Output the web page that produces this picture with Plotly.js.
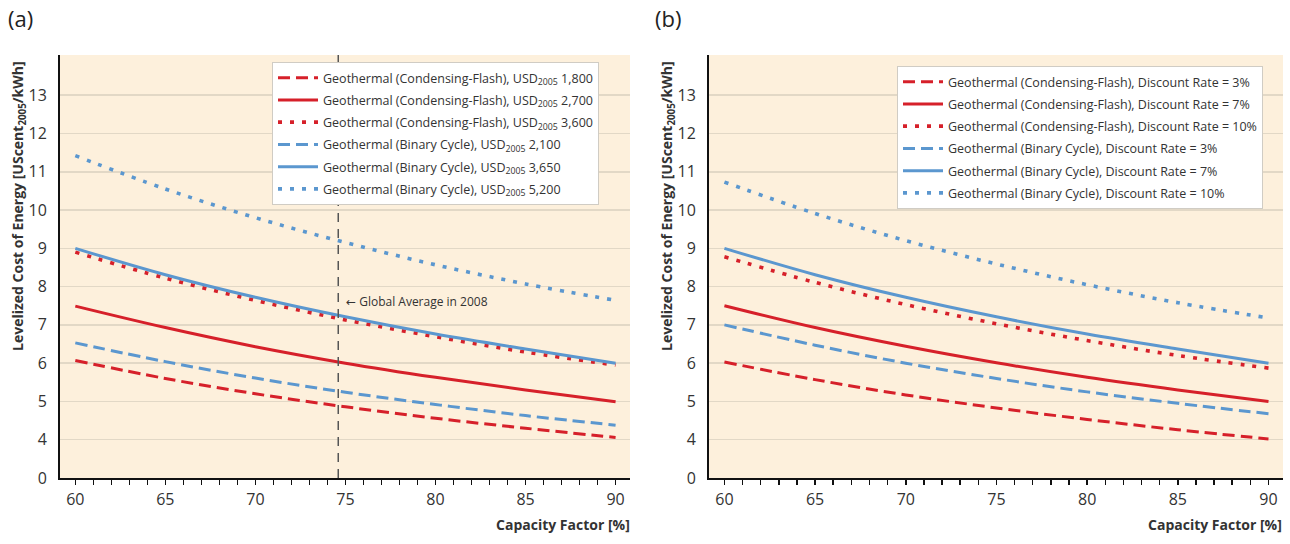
<!DOCTYPE html>
<html>
<head>
<meta charset="utf-8">
<script src="https://cdn.plot.ly/plotly-3.0.1.min.js"></script>
<style>html,body{margin:0;padding:0;background:#fff;}#chart{width:1290px;height:544px;}</style>
</head>
<body>
<div id="chart"></div>
<script>
// ---------- data ----------
const capacityFactor = [60, 65, 70, 75, 80, 85, 90];

// Panel (a): investment cost sensitivity
const aFlash1800 = [6.07, 5.60, 5.20, 4.86, 4.56, 4.30, 4.06];
const aFlash2700 = [7.49, 6.93, 6.43, 6.00, 5.63, 5.30, 4.99];
const aFlash3600 = [8.90, 8.22, 7.64, 7.13, 6.69, 6.29, 5.95];
const aBinary2100 = [6.53, 6.04, 5.61, 5.24, 4.92, 4.63, 4.38];
const aBinary3650 = [9.00, 8.31, 7.72, 7.21, 6.76, 6.37, 6.00];
const aBinary5200 = [11.42, 10.55, 9.80, 9.15, 8.57, 8.07, 7.64];

// Panel (b): discount rate sensitivity
const bFlash3 = [6.03, 5.57, 5.17, 4.83, 4.53, 4.26, 4.02];
const bFlash7 = [7.50, 6.93, 6.44, 6.01, 5.63, 5.30, 5.00];
const bFlash10 = [8.78, 8.11, 7.53, 7.03, 6.59, 6.20, 5.87];
const bBinary3 = [7.00, 6.47, 6.00, 5.60, 5.25, 4.95, 4.68];
const bBinary7 = [9.00, 8.31, 7.72, 7.21, 6.76, 6.37, 6.00];
const bBinary10 = [10.73, 9.91, 9.20, 8.59, 8.05, 7.58, 7.18];

const namesA = [
  'Geothermal (Condensing-Flash), USD<sub>2005</sub> 1,800',
  'Geothermal (Condensing-Flash), USD<sub>2005</sub> 2,700',
  'Geothermal (Condensing-Flash), USD<sub>2005</sub> 3,600',
  'Geothermal (Binary Cycle), USD<sub>2005</sub> 2,100',
  'Geothermal (Binary Cycle), USD<sub>2005</sub> 3,650',
  'Geothermal (Binary Cycle), USD<sub>2005</sub> 5,200'
];
const namesB = [
  'Geothermal (Condensing-Flash), Discount Rate = 3%',
  'Geothermal (Condensing-Flash), Discount Rate = 7%',
  'Geothermal (Condensing-Flash), Discount Rate = 10%',
  'Geothermal (Binary Cycle), Discount Rate = 3%',
  'Geothermal (Binary Cycle), Discount Rate = 7%',
  'Geothermal (Binary Cycle), Discount Rate = 10%'
];

const yTickVals = [3, 4, 5, 6, 7, 8, 9, 10, 11, 12, 13];
const yTickText = ['0', '4', '5', '6', '7', '8', '9', '10', '11', '12', '13'];
const globalAverageCF2008 = 74.6;

// ---------- styles ----------
const RED = '#d6202a';
const BLUE = '#5b97cf';
const DASH = '12px,6px';
const DOT = '4px,8px';
const FONT = '"Open Sans", "DejaVu Sans", sans-serif';

function mk(y, name, color, dash, xa, ya, leg, gi) {
  return {
    x: capacityFactor, y: y, name: name, type: 'scatter', mode: 'lines',
    line: {color: color, width: dash === DOT ? 3.6 : 3, dash: dash, shape: 'spline', smoothing: 1},
    xaxis: xa, yaxis: ya, legend: leg, legendgroup: leg + gi, hoverinfo: 'skip'
  };
}

const seriesA = [aFlash1800, aFlash2700, aFlash3600, aBinary2100, aBinary3650, aBinary5200];
const seriesB = [bFlash3, bFlash7, bFlash10, bBinary3, bBinary7, bBinary10];
const colors = [RED, RED, RED, BLUE, BLUE, BLUE];
const dashes = [DASH, 'solid', DOT, DASH, 'solid', DOT];

const traces = [];
seriesA.forEach((s, i) => traces.push(mk(s, namesA[i], colors[i], dashes[i], 'x', 'y', 'legend', i)));
seriesB.forEach((s, i) => traces.push(mk(s, namesB[i], colors[i], dashes[i], 'x2', 'y2', 'legend2', i)));

const W = 1290, H = 544;
const px = v => v / W;
const py = v => (H - v) / H;

function xaxisCfg(dom, anchor) {
  return {
    domain: dom, anchor: anchor, range: [59.15, 90.8],
    tick0: 60, dtick: 5, ticks: 'outside', ticklen: 5, tickwidth: 1.5, tickcolor: '#111',
    minor: {dtick: 1, ticks: 'outside', ticklen: 5, tickwidth: 1.5, tickcolor: '#111', showgrid: false},
    showline: true, linecolor: '#111', linewidth: 2, showgrid: false, zeroline: false,
    tickfont: {family: FONT, size: 16, color: '#333', weight: 500}, ticklabelstandoff: 1
  };
}
function yaxisCfg(anchor) {
  return {
    domain: [py(478), py(55)], anchor: anchor, range: [3, 14.05],
    tickmode: 'array', tickvals: yTickVals, ticktext: yTickText,
    ticks: '', showline: true, linecolor: '#111', linewidth: 2,
    showgrid: true, gridcolor: '#e2d8c6', gridwidth: 1.5, zeroline: false,
    tickfont: {family: FONT, size: 16, color: '#333'}, ticklabelstandoff: 8
  };
}

const legendBase = {
  xanchor: 'left', yanchor: 'top', bgcolor: '#ffffff', bordercolor: '#d0ccc4', borderwidth: 1,
  font: {family: FONT, size: 12.5, color: '#333'}, tracegroupgap: 3, itemwidth: 40
};

const yTitle = 'Levelized Cost of Energy [UScent<sub>2005</sub>/kWh]';

const layout = {
  width: W, height: H, margin: {l: 0, r: 0, t: 0, b: 0},
  paper_bgcolor: '#ffffff', plot_bgcolor: '#fdf0dc', showlegend: true,
  font: {family: FONT, color: '#333'},
  xaxis: xaxisCfg([px(60), px(630)], 'y'),
  yaxis: yaxisCfg('x'),
  xaxis2: xaxisCfg([px(709), px(1283)], 'y2'),
  yaxis2: yaxisCfg('x2'),
  legend: Object.assign({x: px(272), y: py(62)}, legendBase),
  legend2: Object.assign({x: px(897), y: py(66)}, legendBase),
  shapes: [
    {type: 'line', xref: 'x', yref: 'y', x0: globalAverageCF2008, x1: globalAverageCF2008, y0: 3, y1: 14.05,
     line: {color: '#555', width: 1.5, dash: '9px,7px'}}
  ],
  annotations: [
    {text: '(a)', xref: 'paper', yref: 'paper', x: px(6), y: py(18), xanchor: 'left', yanchor: 'middle',
     showarrow: false, font: {family: FONT, size: 22, color: '#222', weight: 500}},
    {text: '(b)', xref: 'paper', yref: 'paper', x: px(653), y: py(18), xanchor: 'left', yanchor: 'middle',
     showarrow: false, font: {family: FONT, size: 22, color: '#222', weight: 500}},
    {text: '<b>Capacity Factor [%]</b>', xref: 'paper', yref: 'paper', x: px(632), y: py(524), xanchor: 'right', yanchor: 'middle',
     showarrow: false, font: {family: FONT, size: 14, color: '#333'}},
    {text: '<b>Capacity Factor [%]</b>', xref: 'paper', yref: 'paper', x: px(1284), y: py(524), xanchor: 'right', yanchor: 'middle',
     showarrow: false, font: {family: FONT, size: 14, color: '#333'}},
    {text: '<b>' + yTitle + '</b>', xref: 'paper', yref: 'paper', x: px(18), y: py(206), xanchor: 'center', yanchor: 'middle',
     textangle: -90, showarrow: false, font: {family: FONT, size: 14, color: '#333'}},
    {text: '<b>' + yTitle + '</b>', xref: 'paper', yref: 'paper', x: px(667), y: py(206), xanchor: 'center', yanchor: 'middle',
     textangle: -90, showarrow: false, font: {family: FONT, size: 14, color: '#333'}},
    {text: '\u2190 Global Average in 2008', xref: 'x', yref: 'y', x: 74.9, y: 7.62, xanchor: 'left', yanchor: 'middle',
     showarrow: false, font: {family: FONT, size: 12, color: '#333'}}
  ]
};

Plotly.newPlot('chart', traces, layout, {staticPlot: true, displayModeBar: false});
</script>
</body>
</html>
